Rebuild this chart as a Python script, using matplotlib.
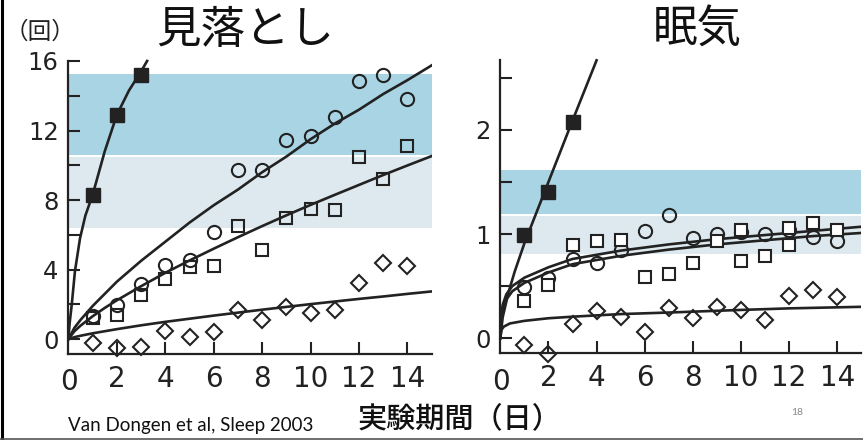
import matplotlib
matplotlib.use('Agg')
import matplotlib.pyplot as plt
from matplotlib.lines import Line2D

# ---- data ----
days = [1, 2, 3, 4, 5, 6, 7, 8, 9, 10, 11, 12, 13, 14]
tsd_days = [1, 2, 3]

# 見落とし (lapses)
lapse_tsd = [8.3, 12.9, 15.2]
lapse_4h = [1.3, 1.95, 3.15, 4.25, 4.55, 6.15, 9.75, 9.75, 11.45, 11.7, 12.8, 14.85, 15.2, 13.8]
lapse_6h = [1.2, 1.4, 2.55, 3.45, 4.15, 4.2, 6.5, 5.15, 6.95, 7.5, 7.45, 10.5, 9.2, 11.1]
lapse_8h = [-0.25, -0.5, -0.45, 0.45, 0.1, 0.4, 1.7, 1.1, 1.85, 1.5, 1.7, 3.25, 4.35, 4.2]

# fitted curves
lapse_tsd_fit_x = [0, 0.05, 0.14, 0.27, 0.48, 0.7, 1.0, 1.5, 2.0, 2.5, 3.0, 3.25]
lapse_tsd_fit_y = [0, 0.9, 2.0, 3.9, 5.8, 7.1, 8.3, 10.8, 12.9, 14.3, 15.4, 16.0]
fit_x = [0, 0.25, 0.5, 1, 1.5, 2, 3, 4, 5, 6, 7, 8, 9, 10, 11, 12, 13, 14, 15]
lapse_4h_fit = [0, 0.65, 1.1, 1.9, 2.6, 3.3, 4.5, 5.6, 6.7, 7.7, 8.6, 9.6, 10.5, 11.5,
                12.4, 13.2, 14.1, 14.9, 15.75]
lapse_6h_fit = [0, 0.45, 0.77, 1.31, 1.79, 2.23, 3.04, 3.81, 4.52, 5.2, 5.86, 6.5, 7.12,
                7.72, 8.3, 8.87, 9.44, 9.99, 10.53]
lapse_8h_fit = [0, 0.11, 0.19, 0.33, 0.45, 0.57, 0.79, 0.99, 1.17, 1.35, 1.52, 1.69, 1.85,
                2.01, 2.16, 2.31, 2.45, 2.6, 2.74]

# 眠気 (sleepiness)
sleepy_tsd = [0.99, 1.40, 2.08]
sleepy_4h = [0.49, 0.58, 0.76, 0.72, 0.85, 1.03, 1.18, 0.96, 1.0, 1.02, 1.0, 1.04, 0.97, 0.93]
sleepy_6h_x = [1, 2, 3, 4, 5, 6, 7, 8, 9, 10, 11, 12, 13, 14, 10, 12]
sleepy_6h = [0.36, 0.51, 0.89, 0.93, 0.94, 0.59, 0.62, 0.72, 0.93, 0.74, 0.79, 0.89, 1.11,
             1.04, 1.04, 1.06]
sleepy_8h = [-0.07, -0.15, 0.13, 0.26, 0.20, 0.06, 0.29, 0.19, 0.30, 0.27, 0.17, 0.40, 0.46, 0.39]

sleepy_tsd_fit_x = [0, 0.1, 0.33, 0.6, 1, 2, 3, 4]
sleepy_tsd_fit_y = [0, 0.2, 0.43, 0.64, 0.91, 1.5, 2.09, 2.67]
sleepy_fit_x = [0, 0.03, 0.1, 0.25, 0.5, 1, 2, 3, 4, 5, 7, 9, 11, 13, 15]
sleepy_6h_fit = [0, 0.2, 0.32, 0.42, 0.5, 0.58, 0.68, 0.76, 0.8, 0.84, 0.9, 0.95, 0.99, 1.03, 1.07]
sleepy_4h_fit = [0, 0.15, 0.27, 0.37, 0.45, 0.53, 0.63, 0.71, 0.75, 0.79, 0.85, 0.9, 0.94, 0.98, 1.01]
sleepy_8h_fit_x = [0, 0.05, 0.15, 0.4, 1, 2, 3, 5, 7, 10, 12, 15]
sleepy_8h_fit = [0, 0.08, 0.11, 0.14, 0.165, 0.19, 0.205, 0.23, 0.245, 0.27, 0.285, 0.30]

W, H = 863, 440
INK = '#222222'
DARK_BAND = '#a9d4e4'
LIGHT_BAND = '#dde9ef'
TICK_FONT = 'DejaVu Sans'
JP_FONT = ['Noto Sans CJK JP', 'DejaVu Sans']


def px(x, y):
    return x / W, 1 - y / H


def style_axis(ax, xlim, ylim, yticks, yminor, ylabels):
    ax.set_xlim(*xlim)
    ax.set_ylim(*ylim)
    for s in ['top', 'right']:
        ax.spines[s].set_visible(False)
    for s in ['left', 'bottom']:
        ax.spines[s].set_linewidth(1.6)
        ax.spines[s].set_color(INK)
    ax.set_facecolor('none')
    ax.set_xticks(range(2, 15, 2))
    ax.set_yticks(yticks)
    ax.set_yticks(yminor, minor=True)
    ax.tick_params(axis='both', which='both', direction='in', length=8.5, width=1.5,
                   color=INK)
    ax.tick_params(axis='x', pad=8, labelsize=20)
    ax.tick_params(axis='y', pad=7, labelsize=17.5)
    ax.set_yticklabels(ylabels, family=TICK_FONT, color=INK)
    ax.set_xticklabels([str(v) for v in range(2, 15, 2)], family=TICK_FONT, color=INK)


fig = plt.figure(figsize=(W / 100, H / 100), dpi=100)

# ---- left panel: 見落とし ----
ax1 = fig.add_axes([68.4 / W, 1 - 354 / H, 363.3 / W, 293 / H])
ax1.axhspan(10.6, 15.25, color=DARK_BAND, lw=0, zorder=0)
ax1.axhspan(6.4, 10.5, color=LIGHT_BAND, lw=0, zorder=0)
style_axis(ax1, (0, 15), (-0.86, 16), [0, 4, 8, 12, 16], [2, 6, 10, 14],
           ['0', '4', '8', '12', '16'])

lw = 1.9
ax1.plot(lapse_tsd_fit_x, lapse_tsd_fit_y, color=INK, lw=lw, clip_on=False)
ax1.plot(fit_x, lapse_4h_fit, color=INK, lw=lw)
ax1.plot(fit_x, lapse_6h_fit, color=INK, lw=lw)
ax1.plot(fit_x, lapse_8h_fit, color=INK, lw=lw)
ax1.plot(tsd_days, lapse_tsd, 's', ms=9.5, color=INK, clip_on=False)
ax1.plot(days, lapse_4h, 'o', ms=9.5, mfc='none', mec=INK, mew=1.5, clip_on=False)
ax1.plot(days, lapse_6h, 's', ms=9, mfc='none', mec=INK, mew=1.5, clip_on=False)
ax1.plot(days, lapse_8h, 'D', ms=8, mfc='none', mec=INK, mew=1.5, clip_on=False)

# ---- right panel: 眠気 ----
ax2 = fig.add_axes([500.3 / W, 1 - 353.3 / H, 361 / W, 293.3 / H])
ax2.axhspan(1.19, 1.615, color=DARK_BAND, lw=0, zorder=0)
ax2.axhspan(0.81, 1.17, color=LIGHT_BAND, lw=0, zorder=0)
style_axis(ax2, (0, 15), (-0.147, 2.673), [0, 1, 2], [0.5, 1.5, 2.5], ['0', '1', '2'])

ax2.plot(sleepy_tsd_fit_x, sleepy_tsd_fit_y, color=INK, lw=lw, clip_on=False)
ax2.plot(sleepy_fit_x, sleepy_6h_fit, color=INK, lw=lw)
ax2.plot(sleepy_fit_x, sleepy_4h_fit, color=INK, lw=lw)
ax2.plot(sleepy_8h_fit_x, sleepy_8h_fit, color=INK, lw=lw)
ax2.plot(tsd_days, sleepy_tsd, 's', ms=9.5, color=INK, clip_on=False)
ax2.plot(days, sleepy_4h, 'o', ms=9.5, mfc='none', mec=INK, mew=1.5, clip_on=False)
ax2.plot(sleepy_6h_x, sleepy_6h, 's', ms=9, mfc='white', mec=INK, mew=1.5, clip_on=False)
ax2.plot(days, sleepy_8h, 'D', ms=8, mfc='none', mec=INK, mew=1.5, clip_on=False)

# x label "0" sits at the corner, drawn separately so no tick is shown there
for ax, x0 in [(ax1, 68.4), (ax2, 500.3)]:
    fig.text(*px(x0 + 1, 382), '0', fontsize=20, family=TICK_FONT, color=INK,
             ha='center', va='center')

# ---- texts ----
fig.text(*px(40, 32), '（回）', fontsize=17, family=JP_FONT, color=INK,
         ha='center', va='center')
fig.text(*px(245, 30), '見落とし', fontsize=32, family=JP_FONT, color='#111111',
         ha='center', va='center')
fig.text(*px(697, 30), '眠気', fontsize=32, family=JP_FONT, color='#111111',
         ha='center', va='center')
fig.text(*px(459, 419), '実験期間（日）', fontsize=21, family=JP_FONT, color='#111111',
         ha='center', va='center', weight='medium')
fig.text(*px(191, 425), 'Van Dongen et al, Sleep 2003', fontsize=13.5, family='Lato',
         color='#111111', ha='center', va='center')
fig.text(*px(797, 412), '18', fontsize=7.5, family='Lato', color='#888888',
         ha='center', va='center')

# slide frame
fig.add_artist(Line2D([1.5 / W, 1.5 / W], [0, 1], color='black', lw=2.2))
fig.add_artist(Line2D([0, 1], [1 - 438.5 / H, 1 - 438.5 / H], color='#555555', lw=1.2))

fig.savefig('out.png', dpi=100, facecolor='white')
